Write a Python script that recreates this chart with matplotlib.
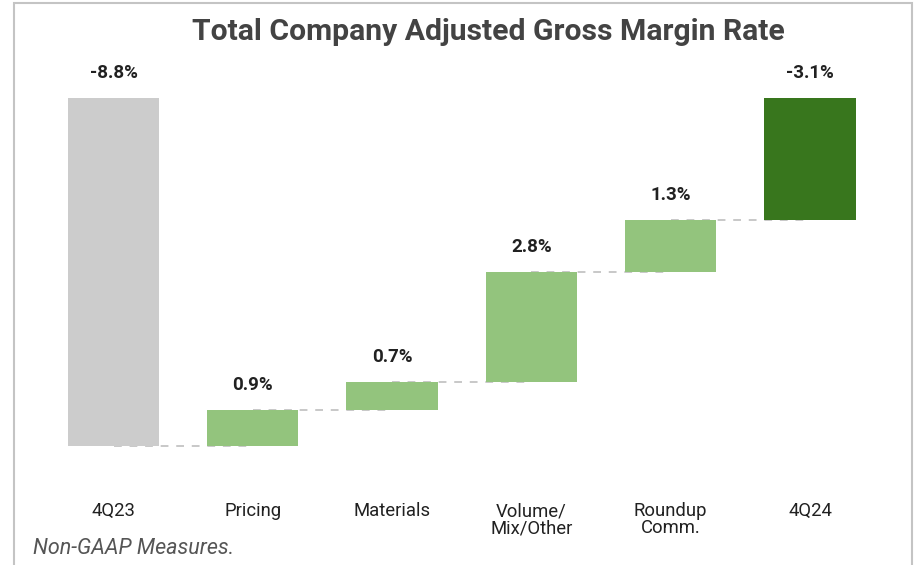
import matplotlib.pyplot as plt
from matplotlib.patches import Rectangle
import matplotlib.transforms as mtransforms

plt.rcParams['font.family'] = ['Roboto', 'DejaVu Sans']

categories = ['4Q23', 'Pricing', 'Materials', 'Volume/\nMix/Other', 'Roundup\nComm.', '4Q24']
start_value = -8.8
changes = [0.9, 0.7, 2.8, 1.3]
end_value = -3.1
labels = ['-8.8%', '0.9%', '0.7%', '2.8%', '1.3%', '-3.1%']

col_total = '#cccccc'
col_step = '#93c47d'
col_end = '#38761d'

W, H = 916, 565
fig = plt.figure(figsize=(W / 100, H / 100), dpi=100)
ax = fig.add_axes([0, 0, 1, 1])
ax.set_axis_off()

# map pixel layout onto data limits
x0_px, step_px = 113.5, 139.3
y0_px, unit_px = 98.0, 39.5
ax.set_xlim(-x0_px / step_px, (W - x0_px) / step_px)
ax.set_ylim(-(H - y0_px) / unit_px, y0_px / unit_px)

bw = 0.655
bottoms, heights, colors = [], [], []
bottoms.append(start_value); heights.append(-start_value); colors.append(col_total)
level = start_value
for c in changes:
    bottoms.append(level); heights.append(c); colors.append(col_step)
    level += c
bottoms.append(end_value); heights.append(-end_value); colors.append(col_end)

xs = list(range(len(categories)))

# dashed connectors
levels = [start_value]
for c in changes:
    levels.append(levels[-1] + c)
for i, lv in enumerate(levels):
    ax.plot([xs[i], xs[i + 1]], [lv, lv], color='#c8c8c8', lw=1.4,
            ls=(0, (4, 4)), zorder=1)

ax.bar(xs, heights, bottom=bottoms, width=bw, color=colors, zorder=2)

for i, (b, h) in enumerate(zip(bottoms, heights)):
    top = b + h
    ax.annotate(labels[i], (xs[i], top), xytext=(0, 11.5), textcoords='offset points',
                ha='center', va='bottom', fontsize=13.5, fontweight='bold', color='#212121')

trans = mtransforms.blended_transform_factory(ax.transData, fig.transFigure)
for i, cat in enumerate(categories):
    ax.text(xs[i], 1 - 502 / H, cat, transform=trans, ha='center', va='top',
            fontsize=13.3, color='#212121', linespacing=0.95)

fig.text(488 / W, 1 - 32 / H, 'Total Company Adjusted Gross Margin Rate', ha='center',
         va='center', fontsize=21.7, fontweight='bold', color='#434343')
fig.text(33 / W, 1 - 549 / H, 'Non-GAAP Measures.', ha='left', va='center',
         fontsize=15.5, style='italic', color='#555555')

fig.patches.append(Rectangle((14 / W, -0.05), (912 - 14) / W, 1.05 - 3 / H,
                             transform=fig.transFigure, fill=False,
                             edgecolor='#c4c4c4', lw=1.5))

fig.savefig('out.png', dpi=100)
